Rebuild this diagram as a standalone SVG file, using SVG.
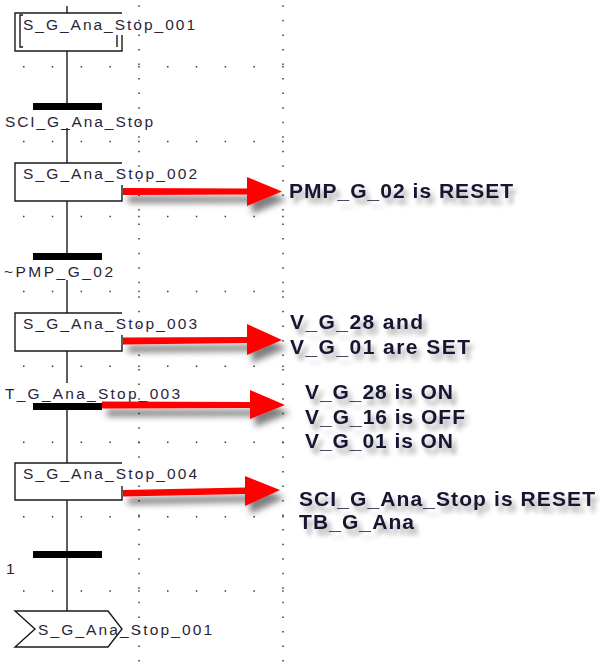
<svg xmlns="http://www.w3.org/2000/svg" width="600" height="663" viewBox="0 0 600 663">
<style>
.grid{stroke:#3a3a3a;stroke-width:1.5;fill:none}
.col{stroke-dasharray:1.5 13.05}
.row{stroke-dasharray:1.5 27.3}
.box{fill:none;stroke:#1a1a1a;stroke-width:1.4}
.conn{fill:none;stroke:#1a1a1a;stroke-width:1.4}
.bar{fill:#000}
.lbl{font-family:"Liberation Sans",Arial,sans-serif;font-size:15.5px;fill:#2b1f3a}
.ann{font-family:"Liberation Sans",Arial,sans-serif;font-size:21px;font-weight:bold;fill:#141430}
.arrow{fill:#ff0000}
</style>
<defs>
<filter id="sh" x="-20%" y="-50%" width="140%" height="220%">
<feDropShadow dx="5" dy="8" stdDeviation="3" flood-color="#000" flood-opacity="0.5"/>
</filter>
<filter id="tsh" x="-10%" y="-50%" width="130%" height="220%">
<feDropShadow dx="4" dy="6" stdDeviation="2.5" flood-color="#000" flood-opacity="0.35"/>
</filter>
</defs>
<rect width="600" height="663" fill="#fff"/>
<g id="grid" class="grid">
<line class="col" x1="139" y1="5.3" x2="139" y2="663"/>
<line class="col" x1="283" y1="5.3" x2="283" y2="663"/>
<line class="row" x1="23" y1="66.7" x2="284" y2="66.7"/>
<line class="row" x1="23" y1="141.6" x2="284" y2="141.6"/>
<line class="row" x1="23" y1="216.5" x2="284" y2="216.5"/>
<line class="row" x1="23" y1="291.4" x2="284" y2="291.4"/>
<line class="row" x1="23" y1="366.3" x2="284" y2="366.3"/>
<line class="row" x1="23" y1="442.2" x2="284" y2="442.2"/>
<line class="row" x1="23" y1="516.7" x2="284" y2="516.7"/>
<line class="row" x1="23" y1="591" x2="284" y2="591"/>
</g>
<g id="connectors">
<path class="conn" d="M67,6 V13 M67,51 V103 M67,128 V163 M67,201 V253 M67,280 V313 M67,351 V383 M67,410 V463 M67,500 V551 M67,558 V611"/>
</g>
<g id="step1">
<path class="box" d="M122,35 V51 H15 V13 H122"/>
<path class="box" d="M23,15 H20 V47 H23 M117,35 V47"/>
<text class="lbl" x="23" y="30" textLength="172" lengthAdjust="spacing">S_G_Ana_Stop_001</text>
</g>
<g id="trans1">
<rect class="bar" x="33" y="103" width="69" height="7"/>
<text class="lbl" x="5" y="127" textLength="148" lengthAdjust="spacing">SCI_G_Ana_Stop</text>
</g>
<g id="step2">
<path class="box" d="M122,185 V201 H15 V163 H122"/>
<text class="lbl" x="23" y="179" textLength="174" lengthAdjust="spacing">S_G_Ana_Stop_002</text>
</g>
<g id="trans2">
<rect class="bar" x="33" y="253" width="69" height="7"/>
<text class="lbl" x="4" y="277" textLength="109" lengthAdjust="spacing">~PMP_G_02</text>
</g>
<g id="step3">
<path class="box" d="M122,335 V351 H15 V313 H122"/>
<text class="lbl" x="23" y="329" textLength="174" lengthAdjust="spacing">S_G_Ana_Stop_003</text>
</g>
<g id="trans3">
<rect class="bar" x="33" y="403" width="69" height="7"/>
<text class="lbl" x="5" y="399" textLength="175" lengthAdjust="spacing">T_G_Ana_Stop_003</text>
</g>
<g id="step4">
<path class="box" d="M122,486 V500 H15 V463 H122"/>
<text class="lbl" x="23" y="479" textLength="174" lengthAdjust="spacing">S_G_Ana_Stop_004</text>
</g>
<g id="trans4">
<rect class="bar" x="33" y="551" width="69" height="7"/>
<text class="lbl" x="6" y="574">1</text>
</g>
<g id="jump">
<polygon points="15,611 108,611 122,629 108,647 15,647 35,629" fill="#fff" stroke="#1a1a1a" stroke-width="1.4"/>
<text class="lbl" x="38" y="635" textLength="174" lengthAdjust="spacing">S_G_Ana_Stop_001</text>
</g>
<g id="arrows" filter="url(#sh)">
<polygon class="arrow" points="123,188 247,188.5 247,177 282,191.5 247,206 247,194.5 123,195"/>
<polygon class="arrow" points="123,337.5 247,337 247,324 282,340 247,355 247,343 123,344.5"/>
<polygon class="arrow" points="102,401.5 250,402 250,390 285,405 250,419 250,408 102,408.5"/>
<polygon class="arrow" points="123,490 245,487.5 245,476 280,490 245,506 245,494 123,496.5"/>
</g>
<g id="annotations" filter="url(#tsh)">
<text class="ann" x="289" y="198" textLength="224" lengthAdjust="spacing">PMP_G_02 is RESET</text>
<text class="ann" x="290" y="329" textLength="133" lengthAdjust="spacing">V_G_28 and</text>
<text class="ann" x="290" y="354" textLength="180" lengthAdjust="spacing">V_G_01 are SET</text>
<text class="ann" x="305" y="399" textLength="148" lengthAdjust="spacing">V_G_28 is ON</text>
<text class="ann" x="305" y="424" textLength="160" lengthAdjust="spacing">V_G_16 is OFF</text>
<text class="ann" x="305" y="448" textLength="148" lengthAdjust="spacing">V_G_01 is ON</text>
<text class="ann" x="299" y="506" textLength="296" lengthAdjust="spacing">SCI_G_Ana_Stop is RESET</text>
<text class="ann" x="299" y="529" textLength="115" lengthAdjust="spacing">TB_G_Ana</text>
</g>
</svg>
